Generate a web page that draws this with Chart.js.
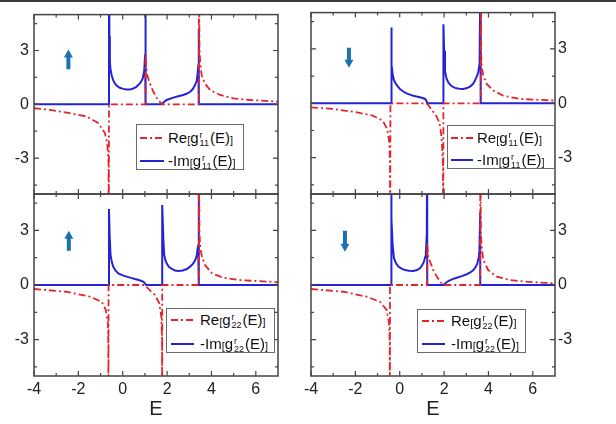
<!DOCTYPE html>
<html>
<head>
<meta charset="utf-8">
<script src="https://cdn.jsdelivr.net/npm/chart.js@4.4.1/dist/chart.umd.min.js"></script>
<style>
  body { margin: 0; background: #fff; }
  #wrap { position: relative; width: 616px; height: 424px; overflow: hidden; font-family: Arial, "Liberation Sans", sans-serif; }
  #topbar { position: absolute; left: 0; top: 0; width: 616px; height: 2px; background: #3a3a3a; }
  canvas { position: absolute; left: 0; top: 0; }
  .legend { position: absolute; background: #fff; border: 1px solid #6a6a6a; box-sizing: border-box; }
  .row { position: absolute; left: 0; height: 20px; margin-top: -10px; width: 100%; }
  .row svg { position: absolute; top: 8px; }
  .row .txt { position: absolute; top: 0; line-height: 20px; font-size: 15px; color: #111; white-space: nowrap; }
  .b { font-size: 11px; vertical-align: -1px; }
  .s { display: inline-flex; flex-direction: column; font-size: 9px; line-height: 8px; vertical-align: 5px; margin: 0 1px 0 1px; }
</style>
</head>
<body>
<div id="wrap">
  <div id="topbar"></div>
  <canvas id="c1" width="616" height="424"></canvas>
  <canvas id="c2" width="616" height="424"></canvas>
  <canvas id="c3" width="616" height="424"></canvas>
  <canvas id="c4" width="616" height="424"></canvas>

  <div class="legend" style="left:136px; top:124px; width:108px; height:46px;">
    <div class="row" style="top:13px;"><svg width="24" height="4" style="left:3px"><line x1="0" y1="2" x2="24" y2="2" stroke="#e4242b" stroke-width="1.8" stroke-dasharray="7,3,2,3"/></svg><span class="txt" style="left:31px">Re<span class="b">[</span>g<span class="s"><span>r</span><span>11</span></span>(E)<span class="b">]</span></span></div>
    <div class="row" style="top:36px;"><svg width="24" height="4" style="left:3px"><line x1="0" y1="2" x2="24" y2="2" stroke="#2424d6" stroke-width="2"/></svg><span class="txt" style="left:31px">-Im<span class="b">[</span>g<span class="s"><span>r</span><span>11</span></span>(E)<span class="b">]</span></span></div>
  </div>
  <div class="legend" style="left:447px; top:125px; width:108px; height:44px;">
    <div class="row" style="top:12px;"><svg width="22" height="4" style="left:3px"><line x1="0" y1="2" x2="22" y2="2" stroke="#e4242b" stroke-width="1.8" stroke-dasharray="7,3,2,3"/></svg><span class="txt" style="left:29px">Re<span class="b">[</span>g<span class="s"><span>r</span><span>11</span></span>(E)<span class="b">]</span></span></div>
    <div class="row" style="top:34px;"><svg width="22" height="4" style="left:3px"><line x1="0" y1="2" x2="22" y2="2" stroke="#2424d6" stroke-width="2"/></svg><span class="txt" style="left:29px">-Im<span class="b">[</span>g<span class="s"><span>r</span><span>11</span></span>(E)<span class="b">]</span></span></div>
  </div>
  <div class="legend" style="left:166px; top:308px; width:109px; height:45px;">
    <div class="row" style="top:11px;"><svg width="23" height="4" style="left:4px"><line x1="0" y1="2" x2="23" y2="2" stroke="#e4242b" stroke-width="1.8" stroke-dasharray="7,3,2,3"/></svg><span class="txt" style="left:33px">Re<span class="b">[</span>g<span class="s"><span>r</span><span>22</span></span>(E)<span class="b">]</span></span></div>
    <div class="row" style="top:35px;"><svg width="23" height="4" style="left:4px"><line x1="0" y1="2" x2="23" y2="2" stroke="#2424d6" stroke-width="2"/></svg><span class="txt" style="left:33px">-Im<span class="b">[</span>g<span class="s"><span>r</span><span>22</span></span>(E)<span class="b">]</span></span></div>
  </div>
  <div class="legend" style="left:417px; top:309px; width:109px; height:44px;">
    <div class="row" style="top:11px;"><svg width="23" height="4" style="left:4px"><line x1="0" y1="2" x2="23" y2="2" stroke="#e4242b" stroke-width="1.8" stroke-dasharray="7,3,2,3"/></svg><span class="txt" style="left:33px">Re<span class="b">[</span>g<span class="s"><span>r</span><span>22</span></span>(E)<span class="b">]</span></span></div>
    <div class="row" style="top:34px;"><svg width="23" height="4" style="left:4px"><line x1="0" y1="2" x2="23" y2="2" stroke="#2424d6" stroke-width="2"/></svg><span class="txt" style="left:33px">-Im<span class="b">[</span>g<span class="s"><span>r</span><span>22</span></span>(E)<span class="b">]</span></span></div>
  </div>
</div>

<script>
// tick values
const xTicks = [-4, -2, 0, 2, 4, 6];
const xMinor = [-3, -1, 1, 3, 5];
const yTicks = [-3, 0, 3];
const yMinor = [-4.5, -1.5, 1.5, 4.5];

// spin up, g11
const upReE = [-4, -3.29, -2.39, -1.63, -1.11, -0.81, -0.70, -0.64, -0.63, -0.62, 1.03, 1.03, 1.06, 1.1, 1.23, 1.38, 1.56, 1.7, 1.76, 3.43, 3.43, 3.46, 3.49, 3.56, 3.71, 3.94, 4.39, 4.99, 5.75, 7];
const upReV = [-0.22, -0.31, -0.49, -0.68, -1.04, -1.59, -2.14, -3.24, -9, 0, 0, 2.8, 2.1, 1.65, 1.15, 0.70, 0.30, 0.1, 0, 0, 9, 3.2, 2.35, 1.62, 1.15, 0.79, 0.52, 0.33, 0.24, 0.15];
const upImE = [-4, -0.62, -0.62, -0.60, -0.58, -0.55, -0.50, -0.43, -0.35, -0.25, -0.13, 0.02, 0.17, 0.32, 0.47, 0.60, 0.70, 0.80, 0.90, 0.97, 1.01, 1.03, 1.03, 1.76, 1.85, 1.98, 2.28, 2.50, 2.73, 2.90, 3.04, 3.16, 3.26, 3.33, 3.37, 3.41, 3.43, 3.43, 7];
const upImV = [0, 0, 9, 3.8, 2.4, 1.95, 1.62, 1.35, 1.15, 1.02, 0.92, 0.86, 0.83, 0.82, 0.88, 0.96, 1.07, 1.2, 1.43, 1.89, 2.8, 9, 0, 0, 0.12, 0.24, 0.37, 0.45, 0.52, 0.6, 0.70, 0.85, 1.07, 1.3, 1.62, 2.2, 4.18, 0, 0];

// spin down, g11
const dnReE = [-4, -3.02, -1.97, -1.22, -0.77, -0.57, -0.47, -0.44, -0.43, -0.42, 1.2, 1.28, 1.41, 1.64, 1.78, 1.86, 1.91, 1.95, 1.96, 1.97, 3.65, 3.65, 3.67, 3.70, 3.77, 3.92, 4.22, 4.67, 5.42, 7];
const dnReV = [-0.22, -0.31, -0.49, -0.68, -0.95, -1.41, -2.14, -3.3, -9, 0, 0, -0.08, -0.31, -0.68, -1.04, -1.59, -2.32, -3.5, -9, 0, 0, 9, 2.8, 1.98, 1.52, 1.07, 0.70, 0.42, 0.24, 0.15];
const dnImE = [-4, -0.39, -0.39, -0.37, -0.35, -0.32, -0.27, -0.21, -0.1, 0.01, 0.16, 0.31, 0.46, 0.61, 0.76, 0.91, 1.03, 1.14, 1.20, 1.24, 1.97, 1.97, 2.00, 2.04, 2.10, 2.19, 2.33, 2.49, 2.68, 2.87, 3.03, 3.17, 3.30, 3.39, 3.48, 3.54, 3.60, 3.65, 3.65, 7];
const dnImV = [0, 0, 4.18, 2.7, 2.1, 1.61, 1.32, 1.15, 0.95, 0.79, 0.65, 0.55, 0.48, 0.42, 0.37, 0.33, 0.29, 0.24, 0.15, 0, 0, 4.36, 2.9, 1.8, 1.4, 1.15, 0.95, 0.85, 0.8, 0.79, 0.84, 0.92, 1.06, 1.25, 1.5, 1.70, 2.2, 9, 0, 0];

// spin up, g22
const up2ReE = [-4, -2.54, -1.48, -0.95, -0.76, -0.67, -0.65, -0.64, -0.64, 1.0, 1.08, 1.23, 1.45, 1.65, 1.74, 1.77, 1.78, 1.78, 3.43, 3.43, 3.46, 3.50, 3.57, 3.71, 4.02, 4.54, 5.30, 7];
const up2ReV = [-0.22, -0.37, -0.64, -0.92, -1.37, -2.1, -3.2, -9, 0, 0, -0.12, -0.3, -0.55, -1.0, -1.74, -3, -9, 0, 0, 9, 2.8, 2.02, 1.56, 1.10, 0.64, 0.40, 0.27, 0.15];
const up2ImE = [-4, -0.62, -0.62, -0.59, -0.55, -0.50, -0.43, -0.33, -0.20, 0.0, 0.18, 0.37, 0.55, 0.72, 0.85, 0.94, 1.00, 1.06, 1.78, 1.78, 1.83, 1.87, 1.92, 1.98, 2.08, 2.21, 2.36, 2.51, 2.70, 2.89, 3.05, 3.18, 3.28, 3.34, 3.40, 3.43, 3.43, 7];
const up2ImV = [0, 0, 4.18, 2.75, 1.65, 1.3, 1.01, 0.8, 0.64, 0.53, 0.46, 0.39, 0.33, 0.28, 0.22, 0.17, 0.09, 0, 0, 4.4, 2.56, 1.65, 1.38, 1.19, 1.0, 0.88, 0.8, 0.77, 0.8, 0.88, 1.02, 1.19, 1.4, 1.65, 2.2, 9, 0, 0];

// spin down, g22
const dn2ReE = [-4, -2.54, -1.49, -0.89, -0.59, -0.48, -0.45, -0.44, -0.44, 1.24, 1.24, 1.27, 1.29, 1.37, 1.51, 1.67, 1.85, 1.97, 3.63, 3.63, 3.66, 3.70, 3.77, 3.99, 4.37, 4.97, 5.72, 7];
const dn2ReV = [-0.22, -0.37, -0.64, -0.92, -1.37, -2.1, -3.2, -9, 0, 0, 2.3, 1.8, 1.56, 1.28, 0.82, 0.46, 0.15, 0, 0, 9, 2.7, 2.02, 1.37, 0.82, 0.46, 0.27, 0.18, 0.09];
const dn2ImE = [-4, -0.39, -0.39, -0.36, -0.32, -0.26, -0.16, -0.06, 0.08, 0.24, 0.42, 0.61, 0.78, 0.91, 1.01, 1.09, 1.15, 1.18, 1.22, 1.24, 1.24, 1.97, 2.06, 2.19, 2.38, 2.57, 2.80, 3.02, 3.18, 3.32, 3.43, 3.50, 3.56, 3.59, 3.63, 3.63, 7];
const dn2ImV = [0, 0, 9, 3.66, 2.2, 1.47, 1.18, 1.01, 0.9, 0.82, 0.78, 0.77, 0.82, 0.92, 1.08, 1.28, 1.55, 1.83, 2.8, 9, 0, 0, 0.1, 0.22, 0.32, 0.40, 0.49, 0.59, 0.69, 0.82, 1.0, 1.19, 1.5, 1.83, 4.0, 0, 0];

const RED = "#e4242b";
const BLUE = "#2424d6";
const ARROW = "#1a73b0";

Chart.defaults.font.family = 'Arial, "Liberation Sans", sans-serif';
Chart.defaults.color = "#222";

function series(E, V) {
  return E.map((e, i) => ({ x: e, y: V[i] }));
}

// frame, inward ticks and the spin arrow
const framePlugin = {
  id: "frame",
  afterDraw(chart, args, opts) {
    const { ctx, chartArea: a } = chart;
    const xs = chart.scales.x, ys = chart.scales.y;
    ctx.save();
    ctx.strokeStyle = "#444";
    ctx.lineWidth = 1.5;
    ctx.strokeRect(a.left, a.top, a.right - a.left, a.bottom - a.top);
    ctx.lineWidth = 1.2;
    ctx.beginPath();
    const xt = (vals, len) => vals.forEach(v => {
      const p = xs.getPixelForValue(v);
      ctx.moveTo(p, a.bottom); ctx.lineTo(p, a.bottom - len);
      ctx.moveTo(p, a.top); ctx.lineTo(p, a.top + len);
    });
    const yt = (vals, len) => vals.forEach(v => {
      const p = ys.getPixelForValue(v);
      ctx.moveTo(a.left, p); ctx.lineTo(a.left + len, p);
      ctx.moveTo(a.right, p); ctx.lineTo(a.right - len, p);
    });
    xt(xTicks, 5); xt(xMinor, 3);
    yt(yTicks, 5); yt(yMinor, 3);
    ctx.stroke();

    // arrow
    const ar = opts.arrow;
    if (ar) {
      const cx = xs.getPixelForValue(ar.x);
      const tail = ys.getPixelForValue(ar.tail);
      const tip = ys.getPixelForValue(ar.tip);
      const dir = tip < tail ? 1 : -1;
      const head = 8 * dir;
      ctx.fillStyle = ARROW;
      ctx.beginPath();
      ctx.moveTo(cx, tip);
      ctx.lineTo(cx + 4.5, tip + head);
      ctx.lineTo(cx + 2, tip + head);
      ctx.lineTo(cx + 2, tail);
      ctx.lineTo(cx - 2, tail);
      ctx.lineTo(cx - 2, tip + head);
      ctx.lineTo(cx - 4.5, tip + head);
      ctx.closePath();
      ctx.fill();
    }
    ctx.restore();
  }
};

function makePanel(id, re, im, p) {
  new Chart(document.getElementById(id), {
    type: "line",
    data: {
      datasets: [
        { data: re, borderColor: RED, borderWidth: 1.8, borderDash: [7, 3, 2, 3], pointRadius: 0, tension: 0, fill: false },
        { data: im, borderColor: BLUE, borderWidth: 2, pointRadius: 0, tension: 0, fill: false }
      ]
    },
    options: {
      responsive: false,
      animation: false,
      events: [],
      layout: { padding: p.padding },
      plugins: { legend: { display: false }, tooltip: { enabled: false }, frame: { arrow: p.arrow } },
      scales: {
        x: {
          type: "linear", min: -4, max: 7,
          display: p.showX,
          grid: { display: false, drawTicks: false }, border: { display: false },
          afterBuildTicks: s => { s.ticks = xTicks.map(v => ({ value: v })); },
          afterFit: s => { if (p.showX) s.height = 48; },
          ticks: { font: { size: 16 }, padding: 4, color: "#222" },
          title: { display: true, text: "E", font: { size: 20 }, padding: { top: 0, bottom: 3 }, color: "#222" }
        },
        y: {
          type: "linear", min: -5, max: 5,
          position: p.yPos,
          grid: { display: false, drawTicks: false }, border: { display: false },
          afterBuildTicks: s => { s.ticks = yTicks.map(v => ({ value: v })); },
          afterFit: s => { s.width = p.yPos === "left" ? 34 : 40; },
          ticks: { font: { size: 16 }, padding: p.yPos === "left" ? 5 : 3, color: "#222" }
        }
      }
    },
    plugins: [framePlugin]
  });
}

makePanel("c1", series(upReE, upReV), series(upImE, upImV), {
  padding: { left: 0, top: 12, right: 338, bottom: 230 }, yPos: "left", showX: false,
  arrow: { x: -2.45, tail: 1.96, tip: 3.06 }
});
makePanel("c2", series(dnReE, dnReV), series(dnImE, dnImV), {
  padding: { left: 311, top: 12, right: 21, bottom: 230 }, yPos: "right", showX: false,
  arrow: { x: -2.29, tail: 3.06, tip: 1.96 }
});
makePanel("c3", series(up2ReE, up2ReV), series(up2ImE, up2ImV), {
  padding: { left: 0, top: 194, right: 338, bottom: 0 }, yPos: "left", showX: true,
  arrow: { x: -2.43, tail: 1.88, tip: 2.98 }
});
makePanel("c4", series(dn2ReE, dn2ReV), series(dn2ImE, dn2ImV), {
  padding: { left: 311, top: 194, right: 21, bottom: 0 }, yPos: "right", showX: true,
  arrow: { x: -2.47, tail: 2.98, tip: 1.83 }
});
</script>
</body>
</html>
